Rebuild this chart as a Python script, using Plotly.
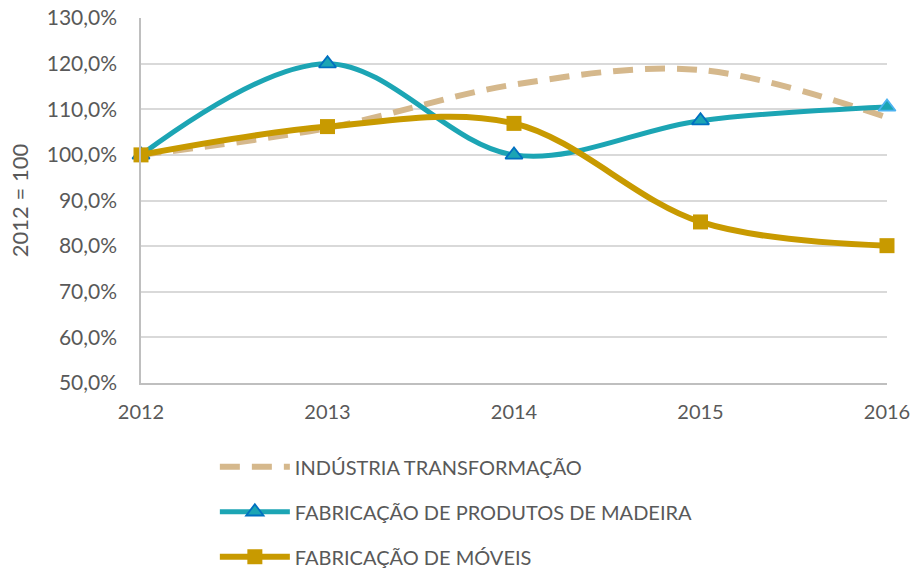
import plotly.graph_objects as go

years = [2012, 2013, 2014, 2015, 2016]
industria = [100.0, 105.9, 115.4, 118.6, 108.2]
madeira = [100.0, 120.0, 100.0, 107.5, 110.5]
moveis = [100.0, 106.2, 106.9, 85.3, 80.1]
y_ticks = [50, 60, 70, 80, 90, 100, 110, 120, 130]
y_ticktext = [f"{v:.1f}%".replace(".", ",") for v in y_ticks]

font_col = "#595959"
fig = go.Figure()
fig.add_trace(go.Scatter(
    x=years, y=industria, name="INDÚSTRIA TRANSFORMAÇÃO", mode="lines",
    line=dict(color="#D5B88C", width=6, dash="20px,12px", shape="spline", smoothing=1.0),
    legendgroup="a", cliponaxis=False))
fig.add_trace(go.Scatter(
    x=years, y=madeira, name="FABRICAÇÃO DE PRODUTOS DE MADEIRA", mode="lines+markers",
    line=dict(color="#1CA5B4", width=5, shape="spline", smoothing=1.0),
    marker=dict(symbol="triangle-up", size=15, color="#1CA5B4",
                line=dict(color=["#0070C0"] * 4 + ["#4DB3F0"], width=1.8)),
    legendgroup="b", cliponaxis=False))
fig.add_trace(go.Scatter(
    x=years, y=moveis, name="FABRICAÇÃO DE MÓVEIS", mode="lines+markers",
    line=dict(color="#C89A00", width=6, shape="spline", smoothing=1.0),
    marker=dict(symbol="square", size=15, color="#C89A00", line=dict(width=0)),
    legendgroup="c", cliponaxis=False))

fig.update_layout(
    width=914, height=572,
    margin=dict(l=141, r=27, t=18, b=189, autoexpand=False),
    paper_bgcolor="white", plot_bgcolor="white",
    font=dict(family="Lato, Open Sans, sans-serif", size=20, color=font_col),
    showlegend=True,
    legend=dict(x=0.099, y=-0.176, xanchor="left", yanchor="top",
                orientation="v", itemwidth=70, tracegroupgap=16,
                font=dict(size=20, color=font_col)),
    xaxis=dict(range=[2012, 2016], tickvals=years, ticktext=[str(y) for y in years],
               showgrid=False, showline=True, linecolor="#BFBFBF", linewidth=1.5,
               zeroline=False, ticks="", ticklabelstandoff=10, automargin=False,
               tickfont=dict(size=20)),
    yaxis=dict(range=[50, 130], tickvals=y_ticks, ticktext=y_ticktext,
               showgrid=True, gridcolor="#D9D9D9", gridwidth=1.5,
               showline=True, linecolor="#BFBFBF", linewidth=1.5, zeroline=False,
               ticks="", ticklabelstandoff=18, automargin=False,
               tickfont=dict(size=21),
               title=dict(text="2012 = 100", font=dict(size=22, color=font_col), standoff=12)),
)
fig.write_html("out.html", config={"displayModeBar": False},
               post_script="document.body.style.margin='0';document.body.style.overflow='hidden';")
